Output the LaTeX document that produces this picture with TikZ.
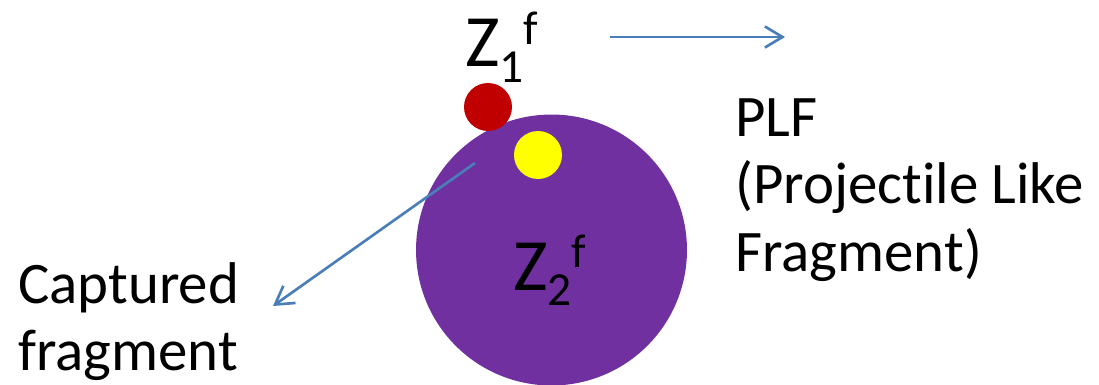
\documentclass[tikz,border=0pt]{standalone}
\usepackage{fontspec}
\setmainfont[Ligatures=NoCommon]{Carlito}
\usetikzlibrary{arrows.meta,positioning}
\definecolor{plum}{HTML}{7030A0}
\definecolor{ruby}{HTML}{C00000}
\definecolor{lemon}{HTML}{FFFF00}
\definecolor{steel}{HTML}{4A7EBB}
\newcommand{\zlabel}[1]{{\fontsize{42}{42}\selectfont Z}{\fontsize{27}{27}\selectfont\raisebox{-9pt}{#1}\raisebox{13pt}{f}}}
\begin{document}
\begin{tikzpicture}[x=.02cm,y=-.02cm,
  ball/.style={circle,inner sep=0pt},
  lbl/.style={inner sep=0pt,align=left,font=\fontsize{33.5}{38.5}\selectfont},
  flow/.style={-{Straight Barb[length=10pt,width=12pt]},steel,line width=1.5pt}]
\useasboundingbox (0,0) rectangle (1099,385);
\node[ball,fill=plum,minimum size=5.42cm] (target) at (551.5,250){};
\node[ball,fill=ruby,minimum size=0.96cm] (proj) at (488,107){};
\node[ball,fill=lemon,minimum size=0.96cm] (frag) at (538,155){};
\node[anchor=base west,inner sep=0pt] (zone) at (465,67){\zlabel{1}};
\node[anchor=base west,inner sep=0pt] (ztwo) at (513,290){\zlabel{2}};
\node[lbl,anchor=north west] (plf) at (735,98){PLF\\(Projectile Like\\Fragment)};
\node[lbl,anchor=north west] (captured) at (18,262){Captured\\fragment};
\coordinate (plfa) at (610,37);
\coordinate (plfb) at (785,37);
\coordinate (capa) at (475,163);
\coordinate (capb) at (273,306);
\draw[flow] (plfa) -- (plfb);
\draw[flow] (capa) -- (capb);
\end{tikzpicture}
\end{document}
